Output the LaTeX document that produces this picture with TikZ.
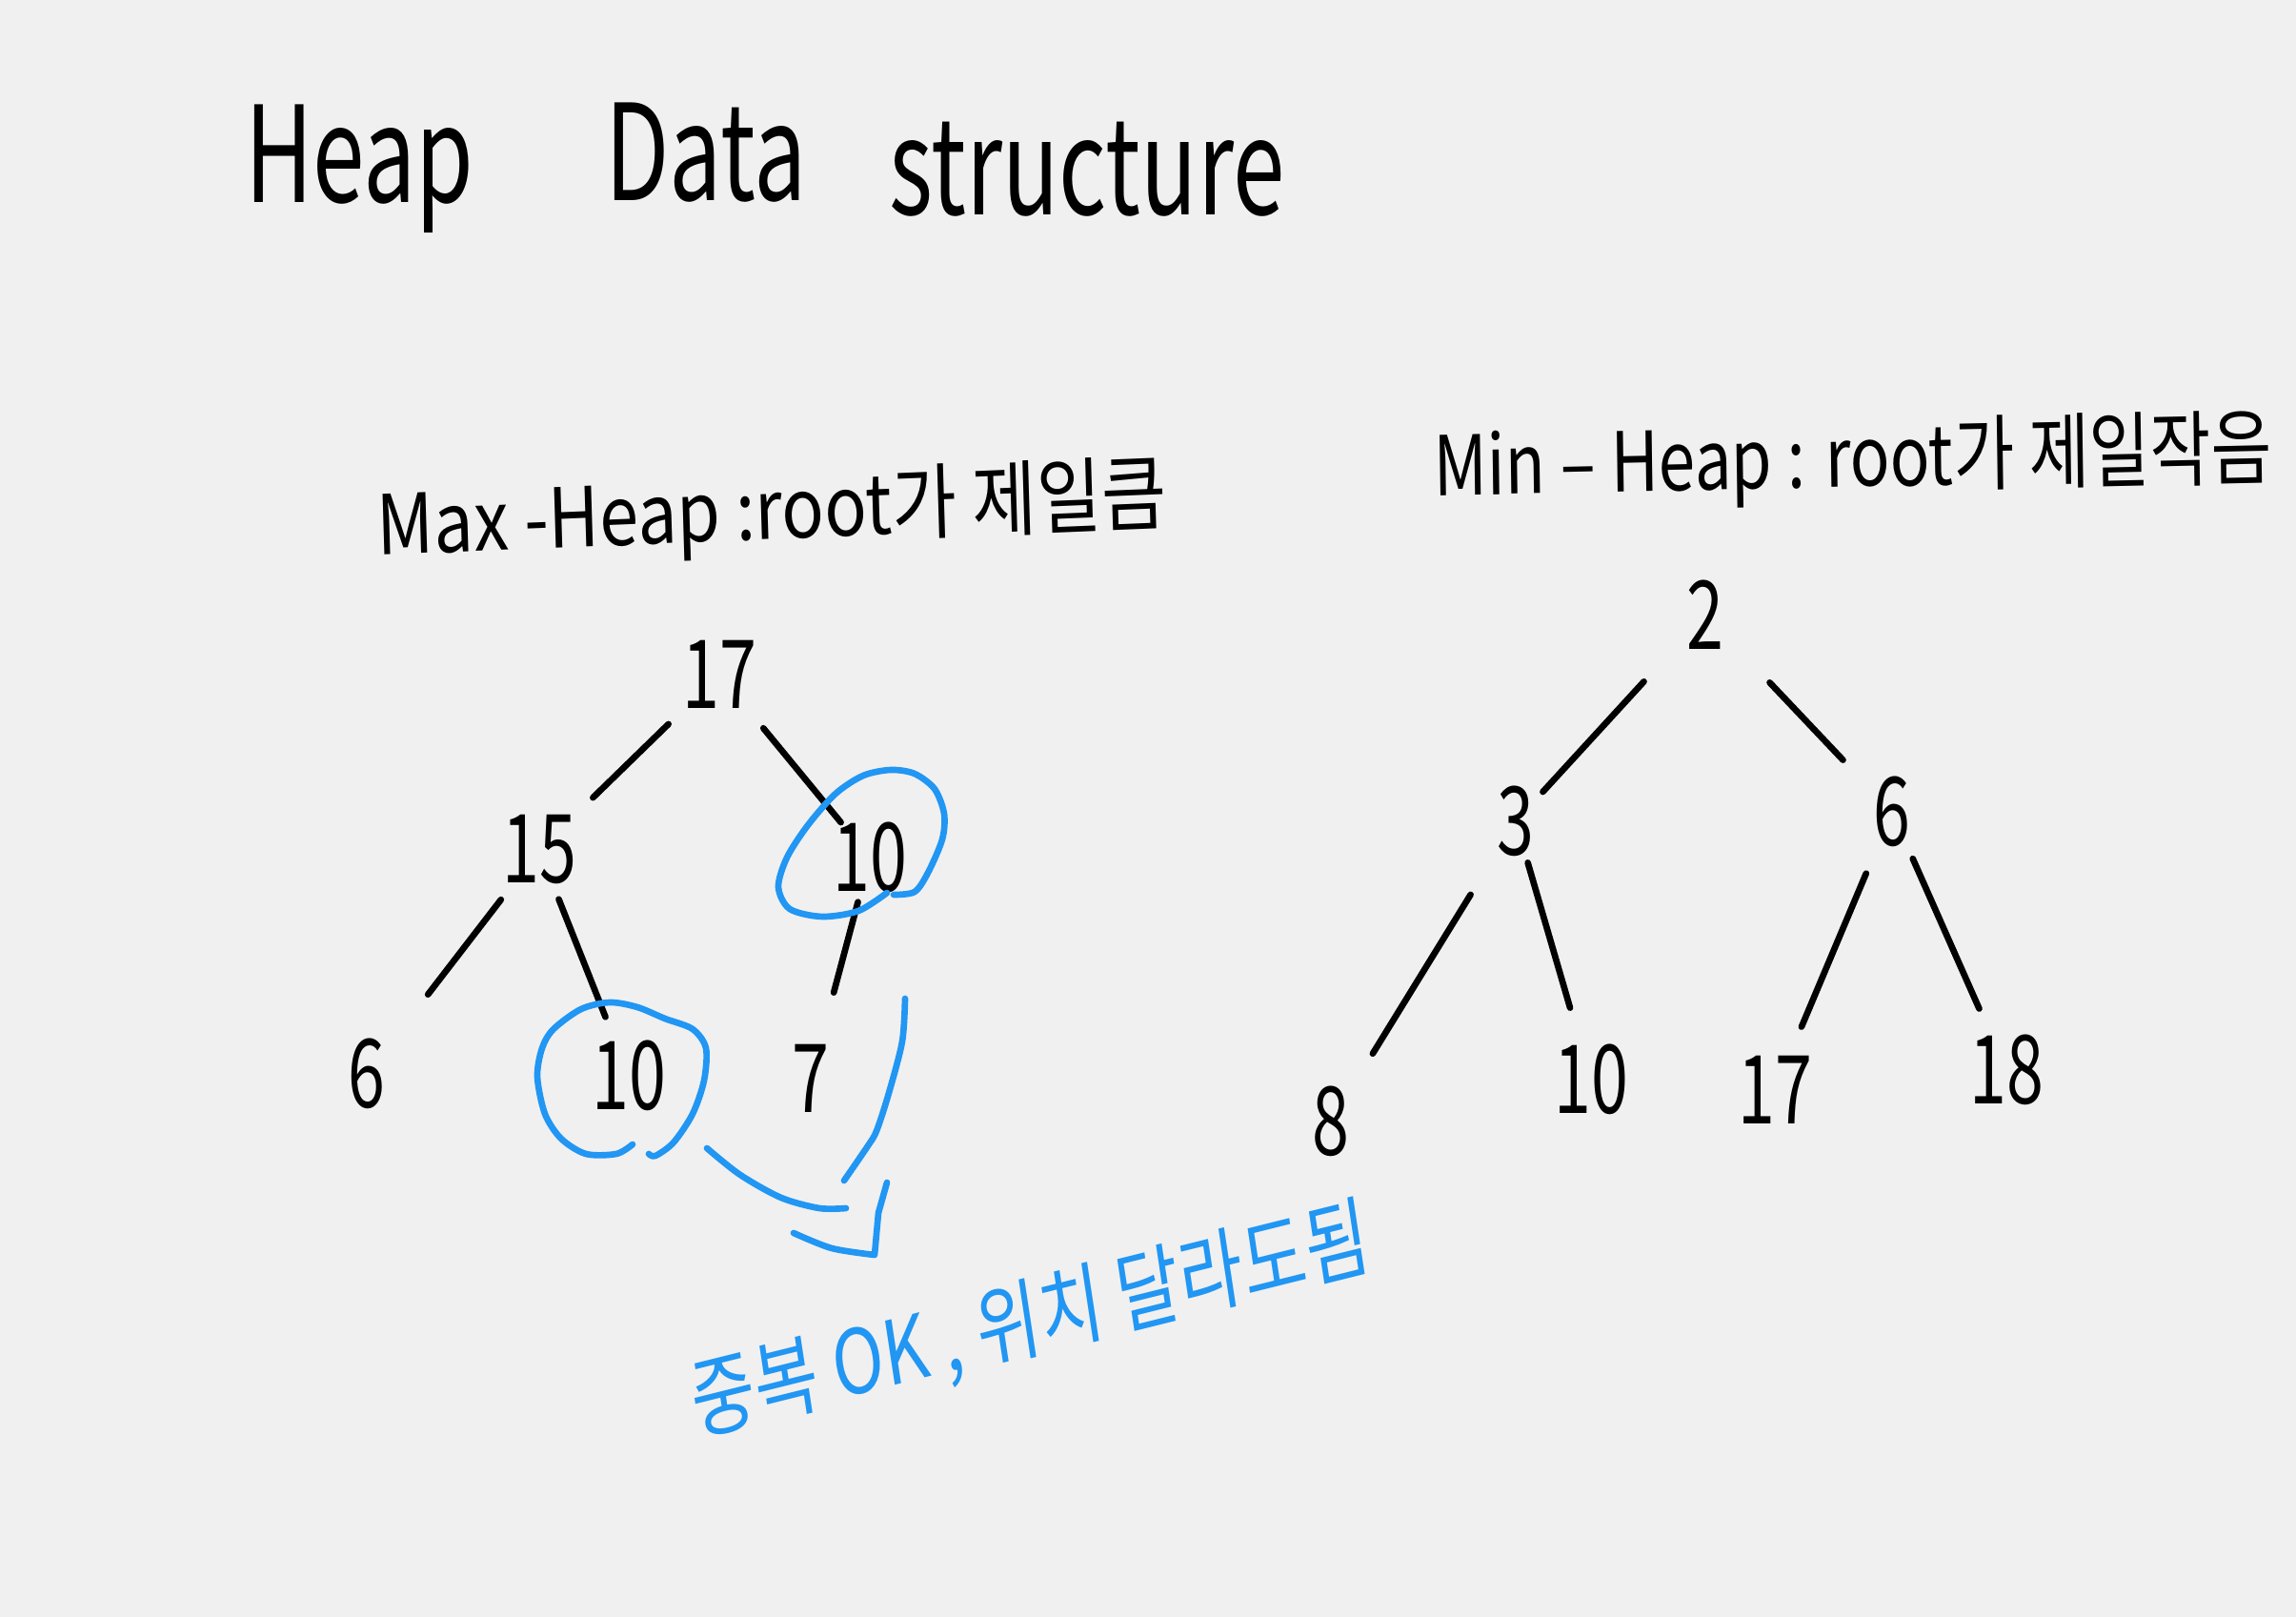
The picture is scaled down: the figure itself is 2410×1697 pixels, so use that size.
\documentclass[tikz,border=0pt]{standalone}
\usepackage{fontspec}
\setmainfont{Noto Sans CJK KR}
\begin{document}
\begin{tikzpicture}[x=0.3pt,y=-0.3pt,
  title/.style={text=drawColor, inner sep=0pt, outer sep=0pt, font=\fontsize{42}{42}\selectfont, xscale=0.7},
  label/.style={text=drawColor, inner sep=0pt, outer sep=0pt, font=\fontsize{26}{26}\selectfont, xscale=0.85},
  num/.style={text=drawColor, inner sep=0pt, outer sep=0pt, font=\fontsize{30}{30}\selectfont, xscale=0.7},
  link/.style={draw=drawColor, line width=2pt, line cap=round},
  pen/.style={draw=penColor, line width=2pt, line cap=round, line join=round}]
\definecolor{fillColor}{RGB}{240,240,240}
\definecolor{drawColor}{RGB}{0,0,0}
\definecolor{penColor}{RGB}{33,150,243}
\begin{scope}
\path[fill=fillColor] (0,0) rectangle (2410,1697);
\end{scope}
\begin{scope}
\node[title] (heap) at ( 377,177) {Heap};
\node[title] (data) at ( 741,160) {Data};
\node[title] (struct) at (1141,178) {structure};
\end{scope}
\begin{scope}
\node[label,rotate=2] (maxlab) at ( 810,540) {Max -Heap :root가 제일큼};
\node[label,xscale=0.94,rotate=1] (minlab) at (1945,485) {Min – Heap : root가 제일작음};
\end{scope}
% max heap
\begin{scope}
\node[num] (m17) at ( 755, 708) {17};
\node[num] (m15) at ( 566, 892) {15};
\node[num] (m10a) at ( 913, 900) {10};
\node[num] (m6) at ( 385,1127) {6};
\node[num] (m10b) at ( 660,1129) {10};
\node[num] (m7) at ( 851,1132) {7};
\draw[link,shorten <=7pt,shorten >=8pt] (m17) -- (m15);
\draw[link,shorten <=8pt] (m17) -- (m10a);
\draw[link,shorten <=6pt,shorten >=22pt] (m15) -- (m6);
\draw[link,shorten <=5pt,shorten >=8pt] (m15) -- (m10b);
\draw[link,shorten <=3pt,shorten >=17pt] (m10a) -- (m7);
\end{scope}
% min heap
\begin{scope}
\node[num] (n2) at (1790, 645) {2};
\node[num] (n3) at (1591, 862) {3};
\node[num] (n6) at (1986, 852) {6};
\node[num] (n8) at (1397,1177) {8};
\node[num] (n10) at (1670,1133) {10};
\node[num] (n17) at (1863,1144) {17};
\node[num] (n18) at (2106,1123) {18};
\draw[link,shorten <=20pt,shorten >=4pt] (n2) -- (n3);
\draw[link,shorten <=21pt,shorten >=14pt] (n2) -- (n6);
\draw[link,shorten <=16pt,shorten >=14pt] (n3) -- (n8);
\draw[link,shorten <=2pt,shorten >=12pt] (n3) -- (n10);
\draw[link,shorten <=9pt,shorten >=10pt] (n6) -- (n17);
\draw[link,shorten <=4pt,shorten >=9pt] (n6) -- (n18);
\end{scope}
% blue pen notes
\begin{scope}
\draw[pen] plot[smooth] coordinates {(938,939) (960,936) (974,916) (989,881) (991,854) (981,828) (960,812) (935,808) (906,814) (877,833) (848,866) (826,900) (817,931) (829,954) (863,962) (901,956) (931,937)};
\draw[pen] plot[smooth] coordinates {(681,1211) (688,1213) (707,1199) (727,1169) (739,1134) (741,1100) (727,1080) (698,1069) (669,1057) (640,1052) (610,1059) (581,1080) (569,1100) (564,1130) (572,1169) (589,1195) (615,1211) (647,1211) (664,1201)};
\draw[pen] plot[smooth] coordinates {(950,1048) (947,1093) (933,1147) (920,1187) (910,1204) (886,1239)};
\draw[pen] plot[smooth] coordinates {(742,1205) (777,1233) (820,1257) (860,1268) (888,1268)};
\draw[pen] plot[smooth] coordinates {(833,1294) (873,1310) (918,1317)} -- (922,1273) -- (931,1241);
\node[text=penColor, inner sep=0pt, font=\fontsize{28}{28}\selectfont, xscale=0.78, rotate=11] (note) at (1082,1388) {중복 OK , 위치 달라도됨};
\end{scope}
\end{tikzpicture}
\end{document}
